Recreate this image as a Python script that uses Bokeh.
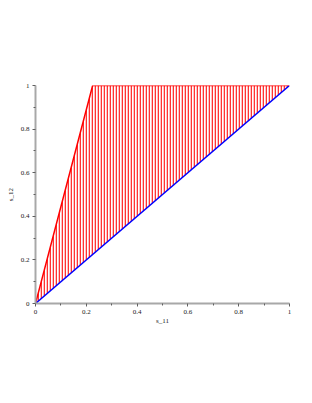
from bokeh.plotting import figure
from bokeh.models import Range1d, FixedTicker
from bokeh.embed import file_html
from bokeh.resources import INLINE

# region vertices (s_11, s_12)
region_x = [0.0, 0.225, 1.0]
region_y = [0.0, 1.0, 1.0]
# upper boundary (red)
upper_x = [0.0, 0.225, 1.0]
upper_y = [0.0, 1.0, 1.0]
# diagonal boundary (blue)
diag_x = [0.0, 1.0]
diag_y = [0.0, 1.0]
ticks = [0, 0.2, 0.4, 0.6, 0.8, 1]
minor = [0.1, 0.3, 0.5, 0.7, 0.9]
tick_labels = {0: "0", 0.2: "0.2", 0.4: "0.4", 0.6: "0.6", 0.8: "0.8", 1: "1"}

p = figure(width=296, height=387, output_backend="svg", toolbar_location=None,
           x_range=Range1d(0, 1), y_range=Range1d(0, 1),
           min_border_left=35, min_border_right=7, min_border_top=85, min_border_bottom=84)
p.outline_line_color = None
p.grid.visible = False

p.patch(region_x, region_y, fill_alpha=0, line_color=None,
        hatch_pattern="|", hatch_color="#ff0000", hatch_scale=3, hatch_weight=1.6, hatch_alpha=0.8)
p.line(upper_x, upper_y, line_color="#ff0000", line_width=1.5)
p.line(diag_x, diag_y, line_color="#0000ff", line_width=1.5)

for ax, lab in ((p.xaxis, "s_11"), (p.yaxis, "s_12")):
    a = ax[0]
    a.ticker = FixedTicker(ticks=ticks, minor_ticks=minor)
    a.major_label_overrides = {k: v for k, v in tick_labels.items()}
    a.axis_label = lab
    a.axis_label_text_font = "Liberation Serif"
    a.axis_label_text_font_style = "normal"
    a.axis_label_text_font_size = "7px"
    a.axis_label_text_color = "#222222"
    a.major_label_text_font = "Liberation Serif"
    a.major_label_text_font_size = "7px"
    a.major_label_text_color = "#222222"
    a.axis_line_color = "#a8a8a8"
    a.axis_line_width = 2
    a.major_tick_line_color = "#606060"
    a.minor_tick_line_color = "#606060"
    a.major_tick_out = 3
    a.major_tick_in = 0
    a.minor_tick_out = 2
    a.minor_tick_in = 0
    a.major_label_standoff = 3
p.xaxis[0].axis_label_standoff = 0
p.yaxis[0].axis_label_standoff = 3

open("out.html", "w").write(file_html(p, INLINE))
